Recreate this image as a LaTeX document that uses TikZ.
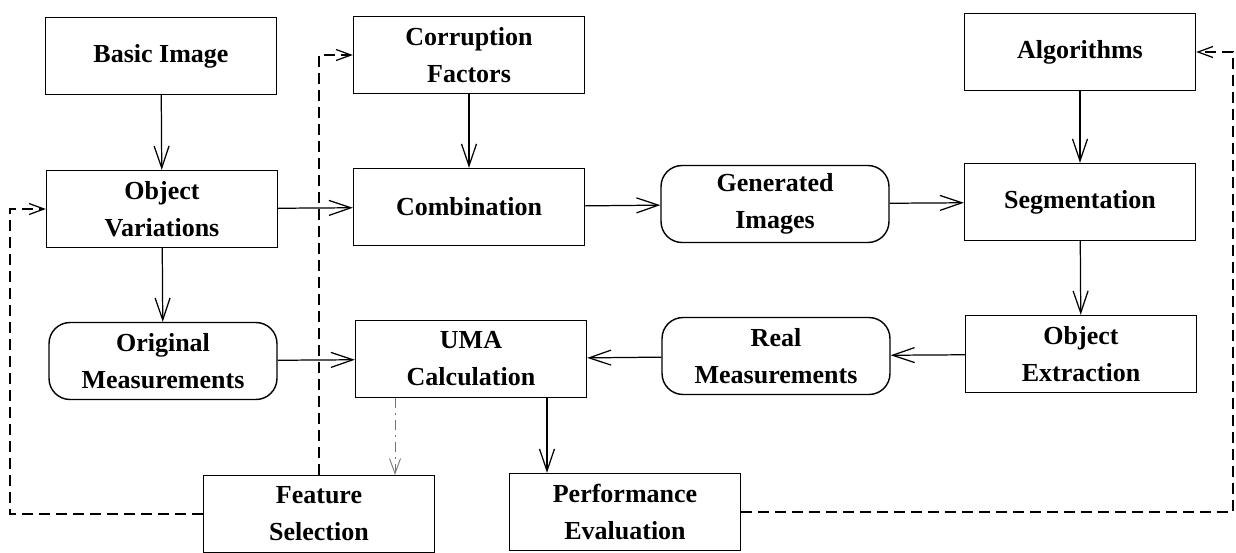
\documentclass[tikz,border=0pt]{standalone}
\usepackage{fontspec}
\setmainfont{Liberation Serif}
\usetikzlibrary{arrows.meta, positioning}

\begin{document}
\begin{tikzpicture}[
		x=0.02cm, y=-0.02cm,
		block/.style={draw, rectangle, line width=0.8pt, minimum width=4.62cm, minimum height=1.54cm, align=center, font=\fontsize{14.8}{21}\selectfont\bfseries},
		store/.style={block, rounded corners=0.42cm, minimum width=4.56cm},
		arrow/.style={-{Straight Barb[length=4.4mm, width=3mm]}, line width=0.7pt},
		feedback/.style={-{Straight Barb[length=3mm, width=2.2mm]}, line width=0.7pt, dash pattern=on 2.2mm off 1.2mm},
		select/.style={-{Straight Barb[length=3mm, width=2.2mm]}, line width=0.5pt, black!55, dash pattern=on 2mm off 1mm on 0.4mm off 1mm}
		]
		\useasboundingbox (0,0) rectangle (1236,552);
		
		% Inputs
		\node[block] (basic) at (161,56) {Basic Image};
		\node[block] (corrupt) at (469,55) {Corruption\\Factors};
		\node[block] (algo) at (1080,52) {Algorithms};
		
		% Generation and segmentation
		\node[block] (ovar) at (162,209) {Object\\Variations};
		\node[block] (combine) at (469,207) {Combination};
		\node[store] (genimg) at (775,204) {Generated\\Images};
		\node[block] (segment) at (1080,202) {Segmentation};
		
		% Measurements
		\node[store] (origm) at (163,361) {Original\\Measurements};
		\node[block] (uma) at (471,359) {UMA\\Calculation};
		\node[store] (realm) at (776,356) {Real\\Measurements};
		\node[block] (extract) at (1081,354) {Object\\Extraction};
		
		% Evaluation
		\node[block] (fsel) at (319,514) {Feature\\Selection};
		\node[block] (perf) at (625,512) {Performance\\Evaluation};
		
		\coordinate (umaR) at ([xshift=1.52cm]uma.south);
		\coordinate (umaL) at ([xshift=-1.52cm]uma.south);
		\coordinate (leftrail) at (10,360);
		\coordinate (rightrail) at (1233,300);
		
		% Main flow
		\draw[arrow] (basic) -- (ovar);
		\draw[arrow] (corrupt) -- (combine);
		\draw[arrow] (algo) -- (segment);
		\draw[arrow] (ovar) -- (combine);
		\draw[arrow] (combine) -- (genimg);
		\draw[arrow] (genimg) -- (segment);
		\draw[arrow] (segment) -- (extract);
		\draw[arrow] (extract) -- (realm);
		\draw[arrow] (realm) -- (uma);
		\draw[arrow] (ovar) -- (origm);
		\draw[arrow] (origm) -- (uma);
		\draw[arrow] (umaR) -- (umaR |- perf.north);
		\draw[select] (umaL) -- (umaL |- fsel.north);
		
		% Feedback loops
		\draw[feedback] (fsel.north) |- (corrupt.west);
		\draw[feedback] (fsel.west) -| (leftrail) |- (ovar.west);
		\draw[feedback] (perf.east) -| (rightrail) |- (algo.east);
	\end{tikzpicture}
\end{document}
